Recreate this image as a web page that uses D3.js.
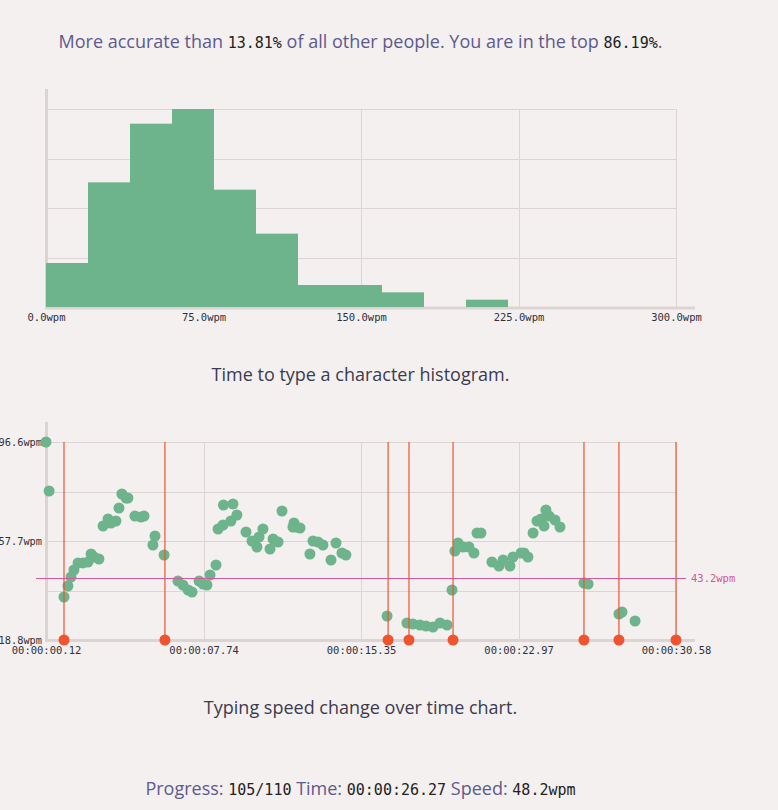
<!DOCTYPE html>
<html><head><meta charset="utf-8">
<script src="https://cdn.jsdelivr.net/npm/d3@7"></script>
<style>html,body{margin:0;padding:0;background:#f4f0ef;overflow:hidden}</style>
</head><body><svg id="c" width="778" height="810"></svg>
<script>
// ---- data ----
const binEdges = [0,20,40,60,80,100,120,140,160,180,200,220,240,260,280,300];
const histCounts = [6,17,25,27,16,10,3,3,2,0,1,0,0,0,0];
const histTicks = [0,75,150,225,300];

const speedTimes = [0.12,0.27,0.99,1.18,1.33,1.47,1.67,1.91,2.15,2.30,2.44,2.68,2.88,3.12,3.26,3.50,3.65,3.79,3.99,4.08,4.42,4.71,4.86,5.29,5.39,5.83,6.50,6.74,6.99,7.18,7.52,7.71,7.90,8.05,8.34,8.44,8.68,8.70,9.06,9.16,9.35,9.79,10.08,10.32,10.42,10.61,10.95,11.10,11.34,11.53,12.06,12.11,12.21,12.40,12.88,13.03,13.27,13.51,13.90,14.14,14.43,14.62,16.61,17.57,17.86,18.20,18.49,18.83,19.17,19.51,19.75,19.89,20.04,20.28,20.57,20.81,20.96,21.15,21.68,22.02,22.22,22.55,22.70,23.09,23.23,23.42,23.67,23.86,24.05,24.20,24.29,24.44,24.73,24.97,26.13,26.33,27.82,27.97,28.60];
const speedWpm = [96.6,77.35,35.70,40.02,43.55,46.31,49.06,49.1,49.45,52.59,51.41,50.63,63.59,66.34,64.77,65.56,70.67,76.17,74.60,74.6,67.52,67.13,67.5,56.13,59.67,52.20,41.98,40.41,38.45,37.66,41.98,40.80,40.41,44.34,48.27,62.42,63.99,71.85,65.56,72.24,67.92,61.24,57.70,55.34,59.27,62.42,54.56,58.49,57.31,69.49,63.20,64.77,63.20,62.81,52.59,57.70,57.31,56.13,50.23,56.91,52.99,52.20,28.23,25.48,25.09,24.69,24.30,23.91,25.48,24.69,38.45,53.77,56.91,55.34,55.34,52.99,60.84,60.84,49.45,47.88,50.23,47.88,51.41,52.99,52.99,51.41,60.84,65.56,66.34,63.59,69.88,67.52,65.95,63.20,41.20,40.80,29.02,29.80,26.27];
const errorTimes = [0.99,5.87,16.66,17.67,19.80,26.13,27.82,30.58];
const timeTicks = [0.12,7.74,15.35,22.97,30.58];
const wpmGrid = [18.8,38.25,57.7,77.15,96.6];
const wpmLabels = [18.8,57.7,96.6];
const avgWpm = 43.2;

// ---- styles ----
const GREEN = "#6db38b", RED = "#ef5430", PINK = "#d6579a", GRID = "#ddd4d4", AXIS = "#dcd3d3";
const MONO = "'DejaVu Sans Mono', monospace", SANS = "'Open Sans', sans-serif";
const svg = d3.select("#c");
const CX = 360.5;

function line(parts, y, color, size) {
  const t = svg.append("text").attr("x", CX).attr("y", y).attr("text-anchor", "middle");
  parts.forEach(p => t.append("tspan").text(p[0])
    .attr("font-family", p[1] ? MONO : SANS)
    .attr("font-size", p[1] ? 15 : (size || 18))
    .attr("fill", p[1] ? "#222" : (color || "#5d5a8e")));
}
line([["More accurate than ",0],["13.81%",1],[" of all other people. You are in the top ",0],["86.19%",1],[".",0]], 48);

// ---- histogram ----
const hx = d3.scaleLinear().domain([0,300]).range([46,676]);
const hy = d3.scaleLinear().domain([0, d3.max(histCounts)]).range([307,109]);
const hg = svg.append("g");
hg.selectAll(".hgy").data([0.25,0.5,0.75,1].map(f=>f*d3.max(histCounts))).join("line")
  .attr("x1",46).attr("x2",676).attr("y1",d=>Math.round(hy(d))+0.5).attr("y2",d=>Math.round(hy(d))+0.5).attr("stroke",GRID).attr("stroke-width",1);
hg.selectAll(".hgx").data(histTicks.slice(1)).join("line")
  .attr("x1",d=>Math.round(hx(d))+0.5).attr("x2",d=>Math.round(hx(d))+0.5).attr("y1",109).attr("y2",307).attr("stroke",GRID).attr("stroke-width",1);
hg.append("line").attr("x1",46.5).attr("x2",46.5).attr("y1",89).attr("y2",309).attr("stroke",AXIS).attr("stroke-width",3);
hg.append("line").attr("x1",45).attr("x2",695).attr("y1",308).attr("y2",308).attr("stroke",AXIS).attr("stroke-width",3);
hg.selectAll(".bar").data(histCounts).join("rect")
  .attr("x",(d,i)=>hx(binEdges[i])).attr("width",(d,i)=>hx(binEdges[i+1])-hx(binEdges[i]))
  .attr("y",d=>hy(d)).attr("height",d=>307-hy(d)).attr("fill",GREEN);
const hax = d3.axisBottom(hx).tickValues(histTicks).tickSize(0).tickFormat(d=>d3.format(".1f")(d)+"wpm");
const hxa = hg.append("g").attr("transform","translate(0,309)").call(hax);
hxa.select(".domain").remove();
hxa.selectAll("text").attr("font-family",MONO).attr("font-size",10.5).attr("fill","#30303c").attr("dy","0.9em");
line([["Time to type a character histogram.",0]], 381, "#3b3b4f", 18);

// ---- speed chart ----
const sx = d3.scaleLinear().domain([timeTicks[0], timeTicks[4]]).range([46,676]);
const sy = d3.scaleLinear().domain([18.8,96.6]).range([640,442]);
const sg = svg.append("g");
sg.selectAll(".sgy").data(wpmGrid.slice(1)).join("line")
  .attr("x1",46).attr("x2",676).attr("y1",d=>Math.round(sy(d))+0.5).attr("y2",d=>Math.round(sy(d))+0.5).attr("stroke",GRID).attr("stroke-width",1);
sg.selectAll(".sgx").data(timeTicks.slice(1)).join("line")
  .attr("x1",d=>Math.round(sx(d))+0.5).attr("x2",d=>Math.round(sx(d))+0.5).attr("y1",442).attr("y2",640).attr("stroke",GRID).attr("stroke-width",1);
sg.append("line").attr("x1",46.5).attr("x2",46.5).attr("y1",422).attr("y2",642).attr("stroke",AXIS).attr("stroke-width",3);
sg.append("line").attr("x1",45).attr("x2",695).attr("y1",640.5).attr("y2",640.5).attr("stroke",AXIS).attr("stroke-width",3);
const fmtTime = s => { const cs = Math.round(s*100); const h=Math.floor(cs/360000), m=Math.floor(cs/6000)%60, sec=Math.floor(cs/100)%60, c=cs%100;
  const p = n => String(n).padStart(2,"0"); return `${p(h)}:${p(m)}:${p(sec)}.${p(c)}`; };
const sxa = sg.append("g").attr("transform","translate(0,642)").call(d3.axisBottom(sx).tickValues(timeTicks).tickSize(0).tickFormat(fmtTime));
sxa.select(".domain").remove();
sxa.selectAll("text").attr("font-family",MONO).attr("font-size",10.5).attr("fill","#30303c").attr("dy","0.9em");
const sya = sg.append("g").attr("transform","translate(45,0)").call(d3.axisLeft(sy).tickValues(wpmLabels).tickSize(0).tickFormat(d=>d3.format(".1f")(d)+"wpm"));
sya.select(".domain").remove();
sya.selectAll("text").attr("font-family",MONO).attr("font-size",10.3).attr("fill","#30303c");
const pts = speedTimes.map((t,i)=>({t, w: speedWpm[i]}));
sg.selectAll(".pt").data(pts).join("circle").attr("cx",d=>sx(d.t)).attr("cy",d=>sy(d.w)).attr("r",5.5).attr("fill",GREEN);
sg.selectAll(".err").data(errorTimes).join("line")
  .attr("x1",d=>sx(d)).attr("x2",d=>sx(d)).attr("y1",442).attr("y2",640).attr("stroke",RED).attr("stroke-width",1.2);
sg.selectAll(".errpt").data(errorTimes).join("circle").attr("cx",d=>sx(d)).attr("cy",640).attr("r",5.5).attr("fill",RED);
const ay = Math.round(sy(avgWpm))+0.5;
sg.append("line").attr("x1",36).attr("x2",686).attr("y1",ay).attr("y2",ay).attr("stroke",PINK).attr("stroke-width",1);
sg.append("text").attr("x",691).attr("y",ay).attr("dy","0.35em").attr("font-family",MONO).attr("font-size",10.5).attr("fill",PINK).text(d3.format(".1f")(avgWpm)+"wpm");
line([["Typing speed change over time chart.",0]], 714, "#3b3b4f", 18);

line([["Progress: ",0],["105/110",1],[" Time: ",0],["00:00:26.27",1],[" Speed: ",0],["48.2wpm",1]], 795);
</script></body></html>
